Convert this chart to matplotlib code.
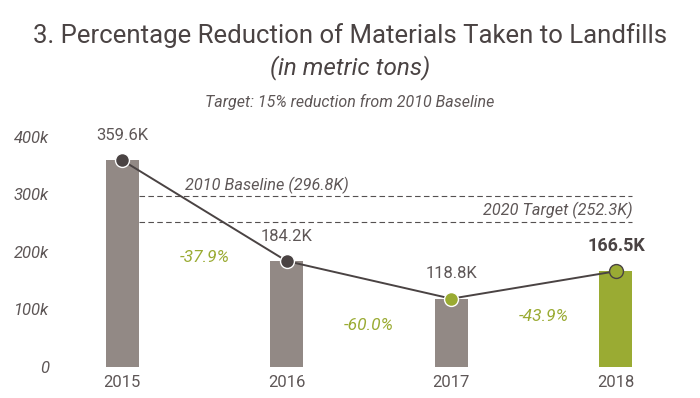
import matplotlib.pyplot as plt
import numpy as np

# Data (thousands of metric tons)
years = ["2015", "2016", "2017", "2018"]
tons = [359.6, 184.2, 118.8, 166.5]
value_labels = ["359.6K", "184.2K", "118.8K", "166.5K"]
pct_changes = ["-37.9%", "-60.0%", "-43.9%"]
baseline_2010 = 296.8
target_2020 = 252.3

GRAY_BAR = "#928985"
GREEN = "#9aab33"
DARK = "#4a4343"
TEXT = "#5e5757"

plt.rcParams["font.family"] = ["Roboto", "DejaVu Sans"]

fig = plt.figure(figsize=(7, 3.98), dpi=100)
ax = fig.add_axes([0.0857, 0.0779, 0.8857, 0.578])

x = np.arange(len(years))
bar_colors = [GRAY_BAR, GRAY_BAR, GRAY_BAR, GREEN]
ax.bar(x, tons, width=0.2, color=bar_colors, zorder=2)

# trend line with markers
ax.plot(x, tons, color=DARK, lw=1.4, zorder=3)
m_face = [DARK, DARK, GREEN, GREEN]
m_edge = ["white", "white", "white", DARK]
for xi, yi, fc, ec in zip(x, tons, m_face, m_edge):
    ax.plot(xi, yi, "o", ms=10, mfc=fc, mec=ec, mew=1, zorder=4)

# value labels
for i, (xi, yi) in enumerate(zip(x, tons)):
    if i == 3:
        ax.annotate(value_labels[i], (xi, yi), xytext=(0, 18), textcoords="offset points",
                    ha="center", va="center", fontsize=13, color=DARK, fontweight="bold")
    else:
        ax.annotate(value_labels[i], (xi, yi), xytext=(0, 18), textcoords="offset points",
                    ha="center", va="center", fontsize=12, color=TEXT)

# percent change labels (between bars)
pct_pos = [(0.5, 190), (1.5, 73), (2.56, 88)]
for (px, py), lab in zip(pct_pos, pct_changes):
    ax.text(px, py, lab, ha="center", va="center", fontsize=12.5, color=GREEN, style="italic")

# baseline / target dashed lines
ax.hlines([baseline_2010, target_2020], 0.1, 3.1, colors="#555050", linestyles=(0, (5, 3)),
          lw=0.8, zorder=1)
ax.text(0.38, baseline_2010 + 19, "2010 Baseline (296.8K)", ha="left", va="center",
        fontsize=11.7, color=TEXT, style="italic")
ax.text(3.1, target_2020 + 20, "2020 Target (252.3K)", ha="right", va="center",
        fontsize=11.7, color=TEXT, style="italic")

ax.set_xlim(-0.377, 3.389)
ax.set_ylim(0, 400)
ax.set_xticks(x, years)
ax.set_yticks([0, 100, 200, 300, 400], ["0", "100k", "200k", "300k", "400k"])
for lab in ax.get_yticklabels():
    lab.set_style("italic")
ax.tick_params(axis="both", length=0, labelsize=12, labelcolor=TEXT)
ax.tick_params(axis="y", pad=8)
ax.tick_params(axis="x", pad=6)
for s in ax.spines.values():
    s.set_visible(False)

fig.text(0.5, 0.91, "3. Percentage Reduction of Materials Taken to Landfills",
         ha="center", va="center", fontsize=18.5, color=DARK)
fig.text(0.5, 0.83, "(in metric tons)", ha="center", va="center", fontsize=17.5,
         color=DARK, style="italic")
fig.text(0.5, 0.743, "Target: 15% reduction from 2010 Baseline", ha="center", va="center",
         fontsize=11.5, color=TEXT, style="italic")

fig.savefig("out.png", dpi=100)
